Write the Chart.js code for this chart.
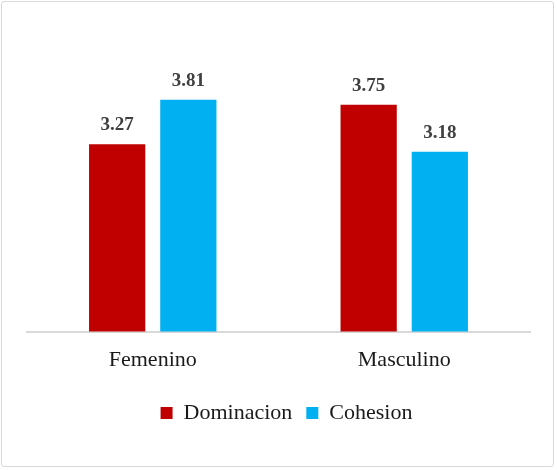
<!DOCTYPE html>
<html>
<head>
<meta charset="utf-8">
<script src="https://cdn.jsdelivr.net/npm/chart.js@4/dist/chart.umd.min.js"></script>
<style>
  html, body { margin: 0; padding: 0; background: #fff; }
  #wrap { position: relative; width: 557px; height: 470px; }
  #c { position: absolute; left: 0; top: 0; }
  #frame { position: absolute; left: 1px; top: 1px; width: 551px; height: 464px;
           border: 1.5px solid #d9d9d9; border-radius: 3px; pointer-events: none; }
</style>
</head>
<body>
<div id="wrap">
  <canvas id="c" width="557" height="470"></canvas>
  <div id="frame"></div>
</div>
<script>
const categories = ["Femenino", "Masculino"];
const seriesNames = ["Dominacion", "Cohesion"];
const dominacion = [3.27, 3.75];
const cohesion = [3.81, 3.18];
const seriesColors = ["#C00000", "#00B0F0"];

const FONT = "Liberation Serif";
Chart.defaults.font.family = FONT;

const valueLabels = {
  id: 'valueLabels',
  afterDatasetsDraw(chart) {
    const ctx = chart.ctx;
    ctx.save();
    ctx.font = "bold 19px 'Liberation Serif'";
    ctx.fillStyle = "#404040";
    ctx.textAlign = "center";
    ctx.textBaseline = "alphabetic";
    chart.data.datasets.forEach((ds, di) => {
      const meta = chart.getDatasetMeta(di);
      meta.data.forEach((bar, i) => {
        ctx.fillText(ds.data[i].toFixed(2), bar.x, bar.y - 14);
      });
    });
    ctx.restore();
  }
};

const shiftLegend = {
  id: 'shiftLegend',
  afterLayout(chart) {
    if (chart.legend) { chart.legend.left += 8; chart.legend.right += 8; }
  }
};

new Chart(document.getElementById('c'), {
  type: 'bar',
  data: {
    labels: categories,
    datasets: [
      { label: seriesNames[0], data: dominacion, backgroundColor: seriesColors[0] },
      { label: seriesNames[1], data: cohesion, backgroundColor: seriesColors[1] }
    ]
  },
  options: {
    responsive: false,
    animation: false,
    devicePixelRatio: 1,
    layout: { padding: { left: 27, right: 27, top: 84, bottom: 36 } },
    datasets: { bar: { categoryPercentage: 0.566, barPercentage: 0.79 } },
    scales: {
      x: {
        grid: { display: false, drawTicks: false },
        border: { display: true, color: '#d9d9d9', width: 2 },
        ticks: { color: '#1a1a1a', font: { family: FONT, size: 22 }, padding: 15 }
      },
      y: {
        display: false,
        min: 1, max: 4
      }
    },
    plugins: {
      legend: {
        position: 'bottom',
        labels: {
          boxWidth: 12, boxHeight: 12, padding: 14,
          color: '#1a1a1a',
          font: { family: FONT, size: 22 }
        }
      },
      tooltip: { enabled: false }
    }
  },
  plugins: [valueLabels, shiftLegend]
});
</script>
</body>
</html>
